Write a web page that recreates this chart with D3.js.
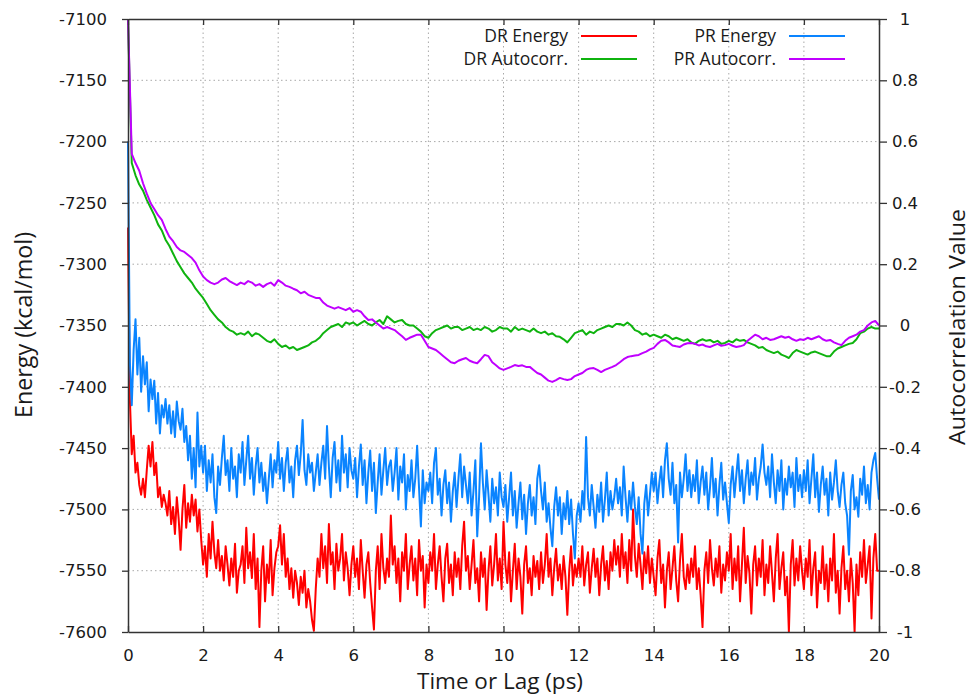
<!DOCTYPE html>
<html>
<head>
<meta charset="utf-8">
<script src="https://cdnjs.cloudflare.com/ajax/libs/d3/7.8.5/d3.min.js"></script>
<style>
	body { margin: 0; background: #fff; }
</style>
</head>
<body>
<svg id="chart"></svg>
<script>
// DATA

// energies sampled every 0.05 ps, autocorrelations every 0.1 ps
var energyStep = 0.05,
	autoStep = 0.1;

var drEnergy = [
	-7270,-7410,-7455,-7440,-7470,-7462,-7480,-7488,-7475,-7490,-7468,-7448,-7465,-7445,-7472,-7462,-7490,-7482,-7498,-7488,
	-7495,-7505,-7485,-7512,-7498,-7520,-7490,-7508,-7533,-7500,-7480,-7515,-7495,-7510,-7488,-7505,-7492,-7518,-7500,-7525,
	-7545,-7530,-7555,-7520,-7540,-7510,-7535,-7548,-7525,-7550,-7538,-7558,-7530,-7545,-7562,-7540,-7555,-7528,-7568,-7550,
	-7545,-7530,-7560,-7515,-7548,-7535,-7556,-7520,-7565,-7540,-7596,-7550,-7530,-7575,-7545,-7560,-7525,-7570,-7548,-7535,
	-7530,-7513,-7545,-7520,-7555,-7540,-7565,-7548,-7572,-7550,-7560,-7578,-7555,-7568,-7550,-7580,-7565,-7575,-7590,-7599,
	-7565,-7540,-7555,-7520,-7548,-7530,-7560,-7512,-7545,-7535,-7565,-7528,-7550,-7540,-7520,-7558,-7535,-7548,-7570,-7545,
	-7530,-7555,-7540,-7565,-7525,-7550,-7572,-7545,-7535,-7560,-7580,-7598,-7550,-7530,-7565,-7520,-7548,-7560,-7540,-7555,
	-7505,-7545,-7530,-7560,-7540,-7575,-7535,-7550,-7520,-7565,-7545,-7530,-7558,-7540,-7570,-7525,-7550,-7538,-7580,-7545,
	-7560,-7535,-7550,-7520,-7565,-7545,-7530,-7555,-7575,-7540,-7528,-7560,-7545,-7570,-7535,-7555,-7540,-7565,-7530,-7510,
	-7550,-7538,-7565,-7545,-7525,-7560,-7548,-7575,-7535,-7555,-7540,-7582,-7550,-7530,-7562,-7545,-7520,-7558,-7540,-7565,
	-7510,-7545,-7560,-7535,-7575,-7550,-7528,-7565,-7540,-7555,-7585,-7545,-7530,-7560,-7548,-7570,-7538,-7555,-7542,-7565,
	-7535,-7560,-7545,-7520,-7555,-7540,-7570,-7548,-7532,-7558,-7545,-7565,-7538,-7555,-7586,-7550,-7530,-7562,-7545,-7555,
	-7540,-7555,-7530,-7562,-7545,-7535,-7568,-7548,-7532,-7555,-7540,-7570,-7545,-7530,-7558,-7542,-7565,-7535,-7550,-7525,
	-7545,-7530,-7555,-7520,-7548,-7535,-7560,-7525,-7550,-7500,-7538,-7555,-7528,-7545,-7565,-7535,-7552,-7530,-7560,-7540,
	-7555,-7570,-7540,-7525,-7560,-7545,-7580,-7550,-7535,-7565,-7548,-7530,-7558,-7575,-7542,-7520,-7555,-7565,-7545,-7560,
	-7540,-7555,-7530,-7565,-7548,-7570,-7596,-7550,-7535,-7560,-7525,-7548,-7562,-7540,-7555,-7530,-7568,-7545,-7558,-7535,
	-7550,-7520,-7565,-7540,-7558,-7530,-7575,-7545,-7515,-7560,-7538,-7552,-7585,-7545,-7530,-7562,-7540,-7555,-7525,-7570,
	-7545,-7560,-7530,-7552,-7575,-7540,-7520,-7565,-7548,-7535,-7570,-7555,-7600,-7545,-7525,-7562,-7540,-7558,-7530,-7550,
	-7565,-7540,-7555,-7525,-7570,-7548,-7535,-7580,-7550,-7560,-7530,-7565,-7545,-7575,-7540,-7558,-7520,-7568,-7550,-7585,
	-7548,-7530,-7565,-7550,-7575,-7540,-7560,-7600,-7545,-7570,-7535,-7555,-7525,-7560,-7545,-7530,-7589,-7540,-7520,-7550,
	-7550
];

var prEnergy = [
	-7200,-7380,-7415,-7370,-7345,-7390,-7360,-7404,-7375,-7398,-7380,-7420,-7394,-7410,-7395,-7430,-7405,-7438,-7415,-7425,
	-7410,-7430,-7415,-7438,-7420,-7441,-7412,-7428,-7435,-7418,-7445,-7432,-7460,-7440,-7475,-7450,-7482,-7421,-7465,-7448,
	-7470,-7448,-7485,-7460,-7478,-7455,-7490,-7503,-7465,-7480,-7458,-7440,-7472,-7460,-7485,-7450,-7475,-7465,-7490,-7455,
	-7470,-7445,-7480,-7460,-7440,-7475,-7458,-7488,-7465,-7450,-7478,-7462,-7485,-7470,-7495,-7475,-7455,-7482,-7460,-7470,
	-7445,-7475,-7458,-7485,-7462,-7450,-7478,-7465,-7490,-7460,-7448,-7472,-7455,-7427,-7468,-7480,-7455,-7470,-7462,-7485,
	-7470,-7455,-7480,-7462,-7448,-7475,-7432,-7465,-7490,-7458,-7445,-7478,-7460,-7485,-7440,-7470,-7455,-7482,-7450,-7468,
	-7475,-7458,-7490,-7465,-7447,-7480,-7460,-7495,-7470,-7452,-7485,-7462,-7503,-7478,-7455,-7488,-7468,-7450,-7480,-7465,
	-7460,-7485,-7470,-7450,-7492,-7465,-7478,-7455,-7500,-7472,-7485,-7460,-7490,-7475,-7448,-7482,-7514,-7468,-7495,-7478,
	-7485,-7470,-7495,-7462,-7450,-7488,-7475,-7505,-7480,-7468,-7495,-7478,-7510,-7485,-7470,-7498,-7475,-7455,-7490,-7465,
	-7480,-7495,-7470,-7505,-7485,-7460,-7522,-7490,-7446,-7478,-7500,-7468,-7488,-7510,-7475,-7495,-7482,-7505,-7470,-7490,
	-7498,-7480,-7510,-7490,-7470,-7505,-7485,-7515,-7495,-7478,-7508,-7488,-7520,-7495,-7480,-7505,-7490,-7512,-7475,-7464,
	-7485,-7500,-7478,-7510,-7495,-7515,-7530,-7498,-7482,-7505,-7490,-7520,-7495,-7508,-7485,-7512,-7492,-7520,-7540,-7505,
	-7495,-7510,-7485,-7500,-7441,-7490,-7505,-7480,-7498,-7515,-7488,-7502,-7478,-7510,-7492,-7470,-7505,-7485,-7500,-7490,
	-7475,-7495,-7482,-7505,-7465,-7490,-7510,-7485,-7500,-7478,-7498,-7512,-7490,-7520,-7536,-7495,-7480,-7505,-7488,-7470,
	-7485,-7470,-7495,-7478,-7465,-7490,-7460,-7446,-7475,-7488,-7462,-7495,-7480,-7527,-7470,-7490,-7475,-7455,-7485,-7468,
	-7490,-7472,-7485,-7460,-7495,-7478,-7465,-7488,-7470,-7500,-7482,-7458,-7490,-7475,-7505,-7480,-7462,-7492,-7478,-7495,
	-7511,-7480,-7465,-7490,-7472,-7455,-7485,-7468,-7495,-7475,-7460,-7488,-7470,-7480,-7458,-7492,-7475,-7465,-7447,-7470,
	-7480,-7465,-7490,-7455,-7478,-7495,-7468,-7485,-7460,-7500,-7475,-7488,-7465,-7482,-7470,-7498,-7458,-7485,-7472,-7490,
	-7468,-7485,-7460,-7495,-7475,-7455,-7490,-7470,-7502,-7480,-7465,-7488,-7475,-7505,-7470,-7492,-7478,-7460,-7485,-7498,
	-7480,-7470,-7495,-7505,-7537,-7485,-7472,-7500,-7490,-7506,-7475,-7488,-7465,-7495,-7480,-7500,-7470,-7460,-7454,-7475,
	-7492
];

var drAuto = [
	1.0, 0.53, 0.49, 0.46, 0.44, 0.41, 0.385, 0.36, 0.33, 0.31,
	0.28, 0.26, 0.235, 0.21, 0.19, 0.17, 0.155, 0.14, 0.12, 0.105,
	0.09, 0.07, 0.05, 0.035, 0.02, 0.01, -0.005, -0.015, -0.02, -0.03,
	-0.025, -0.03, -0.02, -0.035, -0.025, -0.03, -0.04, -0.05, -0.055, -0.045,
	-0.06, -0.07, -0.065, -0.075, -0.07, -0.08, -0.075, -0.07, -0.065, -0.055,
	-0.05, -0.04, -0.025, -0.015, -0.005, 0, 0.005, -0.005, 0.01, 0.005,
	0.01, 0, 0.008, 0.015, 0.005, 0, 0.01, 0.018, 0.005, 0.03,
	0.02, 0.01, 0.015, 0.018, 0.005, 0, 0, -0.01, -0.02, -0.035,
	-0.04, -0.025, -0.015, -0.01, -0.005, 0, -0.01, -0.005, -0.005, -0.015,
	-0.01, -0.005, -0.015, -0.01, -0.015, -0.005, -0.01, -0.02, -0.015, -0.005,
	-0.01, -0.01, -0.02, -0.005, -0.015, -0.01, -0.015, -0.02, -0.01, -0.02,
	-0.025, -0.02, -0.03, -0.025, -0.035, -0.037, -0.045, -0.055, -0.04, -0.025,
	-0.02, -0.015, -0.03, -0.02, -0.025, -0.015, -0.01, -0.005, 0, -0.005,
	0.005, 0.005, 0, 0.01, 0, -0.015, -0.02, -0.03, -0.025, -0.035,
	-0.03, -0.035, -0.04, -0.03, -0.035, -0.045, -0.04, -0.045, -0.05, -0.045,
	-0.055, -0.06, -0.05, -0.045, -0.05, -0.047, -0.055, -0.05, -0.06, -0.057,
	-0.05, -0.055, -0.045, -0.05, -0.047, -0.055, -0.06, -0.065, -0.073, -0.07,
	-0.08, -0.085, -0.09, -0.085, -0.095, -0.1, -0.106, -0.09, -0.08, -0.085,
	-0.09, -0.095, -0.088, -0.085, -0.09, -0.095, -0.1, -0.1, -0.085, -0.075,
	-0.07, -0.065, -0.06, -0.057, -0.045, -0.025, -0.02, -0.01, -0.005, -0.01,
	-0.01
];

var prAuto = [
	1.0, 0.56, 0.53, 0.505, 0.464, 0.43, 0.4, 0.38, 0.36, 0.345,
	0.315, 0.29, 0.275, 0.256, 0.245, 0.24, 0.23, 0.22, 0.205, 0.18,
	0.16, 0.148, 0.14, 0.135, 0.14, 0.15, 0.155, 0.145, 0.138, 0.132,
	0.14, 0.135, 0.145, 0.14, 0.13, 0.135, 0.126, 0.135, 0.14, 0.13,
	0.148, 0.14, 0.13, 0.126, 0.12, 0.115, 0.105, 0.11, 0.1, 0.095,
	0.09, 0.09, 0.075, 0.065, 0.06, 0.055, 0.06, 0.055, 0.05, 0.057,
	0.045, 0.05, 0.045, 0.03, 0.018, 0.02, 0.01, 0, -0.01, -0.005,
	-0.01, -0.015, -0.025, -0.035, -0.047, -0.04, -0.035, -0.03, -0.03, -0.05,
	-0.07, -0.075, -0.08, -0.09, -0.1, -0.11, -0.12, -0.123, -0.115, -0.11,
	-0.106, -0.115, -0.12, -0.123, -0.11, -0.096, -0.1, -0.12, -0.13, -0.14,
	-0.145, -0.14, -0.135, -0.129, -0.132, -0.13, -0.135, -0.135, -0.145, -0.155,
	-0.16, -0.17, -0.18, -0.184, -0.178, -0.171, -0.175, -0.178, -0.175, -0.165,
	-0.16, -0.155, -0.145, -0.14, -0.139, -0.145, -0.152, -0.145, -0.14, -0.135,
	-0.129, -0.12, -0.11, -0.103, -0.1, -0.098, -0.096, -0.09, -0.085, -0.078,
	-0.073, -0.06, -0.05, -0.047, -0.055, -0.065, -0.068, -0.07, -0.062, -0.058,
	-0.057, -0.06, -0.065, -0.062, -0.068, -0.07, -0.065, -0.06, -0.066, -0.064,
	-0.06, -0.066, -0.07, -0.068, -0.064, -0.05, -0.04, -0.03, -0.035, -0.045,
	-0.04, -0.047, -0.045, -0.04, -0.035, -0.04, -0.037, -0.045, -0.05, -0.045,
	-0.047, -0.04, -0.045, -0.04, -0.035, -0.045, -0.05, -0.047, -0.055, -0.06,
	-0.064, -0.05, -0.04, -0.035, -0.03, -0.02, -0.015, 0, 0.01, 0.015,
	0
];

var seriesNames = ["DR Energy", "DR Autocorr.", "PR Energy", "PR Autocorr."];
var xTicks = [0, 2, 4, 6, 8, 10, 12, 14, 16, 18, 20];
var yTicks = [-7600, -7550, -7500, -7450, -7400, -7350, -7300, -7250, -7200, -7150, -7100];
var y2Ticks = [-1, -0.8, -0.6, -0.4, -0.2, 0, 0.2, 0.4, 0.6, 0.8, 1];

// DIMENSIONS

var width = 973,
	height = 697,
	margin = { top: 19, right: 94, bottom: 65, left: 128 },
	plotW = width - margin.left - margin.right,
	plotH = height - margin.top - margin.bottom;

var colors = {
	"DR Energy": "#ff0000",
	"DR Autocorr.": "#0fb30f",
	"PR Energy": "#0a84ff",
	"PR Autocorr.": "#c000ff"
};

var tickFont = "DejaVu Sans",
	labelFont = "'Open Sans', sans-serif";

// SCALES

var x = d3.scaleLinear().domain([0, 20]).range([0, plotW]);
var y = d3.scaleLinear().domain([-7600, -7100]).range([plotH, 0]);
var y2 = d3.scaleLinear().domain([-1, 1]).range([plotH, 0]);

var svg = d3.select("#chart")
	.attr('width', width)
	.attr('height', height)
	.style('background', '#fff');

var g = svg.append('g')
	.attr('transform', 'translate(' + margin.left + ',' + margin.top + ')');

// grid

g.append('g')
	.selectAll('line').data(xTicks.slice(1, -1))
	.enter().append('line')
	.attr('x1', function(d) { return x(d); })
	.attr('x2', function(d) { return x(d); })
	.attr('y1', 0)
	.attr('y2', plotH)
	.attr('stroke', '#a8a8a8')
	.attr('stroke-width', 1)
	.attr('stroke-dasharray', '1.5,3');

g.append('g')
	.selectAll('line').data(yTicks.slice(1, -1))
	.enter().append('line')
	.attr('x1', 0)
	.attr('x2', plotW)
	.attr('y1', function(d) { return y(d); })
	.attr('y2', function(d) { return y(d); })
	.attr('stroke', '#a8a8a8')
	.attr('stroke-width', 1)
	.attr('stroke-dasharray', '1.5,3');

// lines, drawn in key order

var energyLine = d3.line()
	.x(function(d, i) { return x(i * energyStep); })
	.y(function(d) { return y(d); });

var autoLine = d3.line()
	.x(function(d, i) { return x(i * autoStep); })
	.y(function(d) { return y2(d); });

var plots = [
	{ name: "DR Energy", data: drEnergy, gen: energyLine },
	{ name: "DR Autocorr.", data: drAuto, gen: autoLine },
	{ name: "PR Energy", data: prEnergy, gen: energyLine },
	{ name: "PR Autocorr.", data: prAuto, gen: autoLine }
];

plots.forEach(function(p) {
	g.append('path')
		.datum(p.data)
		.attr('fill', 'none')
		.attr('stroke', colors[p.name])
		.attr('stroke-width', 2)
		.attr('stroke-linejoin', 'round')
		.attr('d', p.gen);
});

// axes

function styleAxis(sel) {
	sel.attr('font-family', tickFont)
		.attr('font-size', 16.5);
	sel.selectAll('path.domain').attr('stroke', '#333').attr('stroke-width', 1.5);
	sel.selectAll('.tick line').attr('stroke', '#333').attr('stroke-width', 1.3);
	sel.selectAll('.tick text').attr('fill', '#1a1a1a');
}

var fmt = function(d) { return String(d); };

g.append('g')
	.call(d3.axisLeft(y).tickValues(yTicks).tickFormat(fmt).tickSize(6).tickSizeOuter(0).tickPadding(15))
	.call(styleAxis);

g.append('g')
	.attr('transform', 'translate(' + plotW + ',0)')
	.call(d3.axisRight(y2).tickValues(y2Ticks).tickFormat(fmt).tickSize(8).tickSizeOuter(0))
	.call(styleAxis)
	.selectAll('.tick text')
	.attr('x', 26)
	.attr('text-anchor', 'middle');

g.append('g')
	.attr('transform', 'translate(0,' + plotH + ')')
	.call(d3.axisBottom(x).tickValues(xTicks).tickFormat(fmt).tickSize(-6).tickSizeOuter(0).tickPadding(17))
	.call(styleAxis);

g.append('g')
	.call(d3.axisTop(x).tickValues(xTicks).tickFormat('').tickSize(-6).tickSizeOuter(0))
	.call(styleAxis);

// titles

svg.append('text')
	.attr('x', 500)
	.attr('y', 689)
	.attr('text-anchor', 'middle')
	.attr('font-family', labelFont)
	.attr('font-size', 22)
	.attr('fill', '#1a1a1a')
	.attr('textLength', 166)
	.attr('lengthAdjust', 'spacingAndGlyphs')
	.text("Time or Lag (ps)");

svg.append('text')
	.attr('transform', 'translate(32,' + 325 + ') rotate(-90)')
	.attr('text-anchor', 'middle')
	.attr('font-family', labelFont)
	.attr('font-size', 23)
	.attr('fill', '#1a1a1a')
	.attr('textLength', 186)
	.attr('lengthAdjust', 'spacingAndGlyphs')
	.text("Energy (kcal/mol)");

svg.append('text')
	.attr('transform', 'translate(965,' + 327 + ') rotate(-90)')
	.attr('text-anchor', 'middle')
	.attr('font-family', labelFont)
	.attr('font-size', 22)
	.attr('fill', '#1a1a1a')
	.attr('textLength', 236)
	.attr('lengthAdjust', 'spacingAndGlyphs')
	.text("Autocorrelation Value");

// legend, two columns of two rows

var legendCols = [568, 776],
	legendRows = [36, 59];

var legend = svg.append('g')
	.selectAll('g').data(seriesNames)
	.enter().append('g')
	.attr('transform', function(d, i) {
		return 'translate(' + legendCols[Math.floor(i / 2)] + ',' + legendRows[i % 2] + ')';
	});

legend.append('text')
	.attr('text-anchor', 'end')
	.attr('dy', '0.35em')
	.attr('font-family', labelFont)
	.attr('font-size', 17.5)
	.attr('fill', '#1a1a1a')
	.text(function(d) { return d; });

legend.append('line')
	.attr('x1', 13)
	.attr('x2', 69)
	.attr('stroke', function(d) { return colors[d]; })
	.attr('stroke-width', 2);
</script>
</body>
</html>
